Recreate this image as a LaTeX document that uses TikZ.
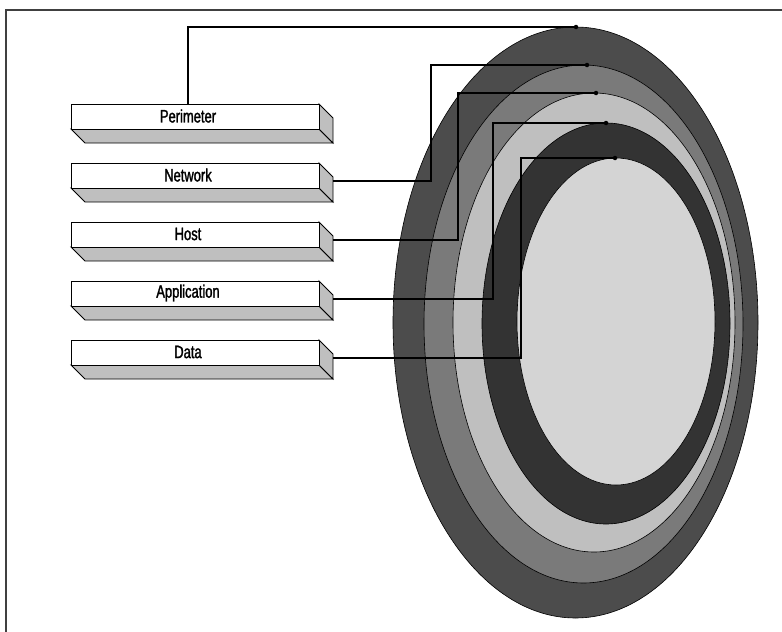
\documentclass[tikz,border=0pt]{standalone}
\usepackage{fontspec}
\setmainfont{Liberation Sans}
\newfontfamily\narrowfont[FakeStretch=0.72,FakeBold=1.5]{Liberation Sans}
\usetikzlibrary{calc,positioning}

\begin{document}
\begin{tikzpicture}[x=1pt,y=-1pt,>=latex]
      \tikzset{
	  face/.style={draw=black, line width=0.9pt, fill=white, inner sep=0pt, outer sep=0pt, minimum width=248pt, minimum height=25pt},
	  side/.style={draw=black, line width=0.9pt, fill=black!25},
	  ring/.style={draw=black, line width=0.6pt},
	  link/.style={draw=black, line width=1.2pt},
	  knot/.style={circle, fill=black, inner sep=0pt, minimum size=4.5pt},
	  tag/.style={font=\narrowfont\fontsize{18}{18}\selectfont}
      }

      %-----#1 name of the box, #2 top edge of the front face, #3 label
      \def\layerbox[#1,#2]#3{%
	\filldraw[side] (71,#2+25) -- (319,#2+25) -- (333,#2+39) -- (85,#2+39) -- cycle;%
	\filldraw[side] (319,#2) -- (333,#2+14) -- (333,#2+39) -- (319,#2+25) -- cycle;%
	\node[face, anchor=north west] (#1) at (71,#2) {};%
	\node[tag] (#1 label) at (188,#2+12) {#3};%
	\coordinate (#1 out) at (333,#2+18);}

      \useasboundingbox (0,0) rectangle (782,632);
      \draw[line width=1.5pt, black!75] (6,632) -- (6,10) -- (782,10);

      % the rings, outermost first
      \foreach \cx/\cy/\rx/\ry/\tone in {575.5/322.5/182.5/295.5/70, 583.5/324/159.5/259/52,
	  594/322.5/141/229.5/25, 606/323.5/124/200.5/80, 616/321.5/99/163.5/17}
	\filldraw[ring, fill=black!\tone] (\cx,\cy) circle [x radius=\rx, y radius=\ry];

      \node[knot] (perimeter dot) at (576,27) {};
      \node[knot] (network dot) at (587,65) {};
      \node[knot] (host dot) at (596,93) {};
      \node[knot] (application dot) at (606,123) {};
      \node[knot] (data dot) at (615,158) {};

      \layerbox[perimeter,104] {Perimeter};
      \layerbox[network,163] {Network};
      \layerbox[host,222] {Host};
      \layerbox[application,281] {Application};
      \layerbox[data,340] {Data};

      \draw[link] (perimeter.north -| perimeter label) |- (perimeter dot);
      \draw[link] (network out) -| (431,65) -- (network dot);
      \draw[link] (host out) -| (458,93) -- (host dot);
      \draw[link] (application out) -| (493,123) -- (application dot);
      \draw[link] (data out) -| (521,158) -- (data dot);
    \end{tikzpicture}
\end{document}
